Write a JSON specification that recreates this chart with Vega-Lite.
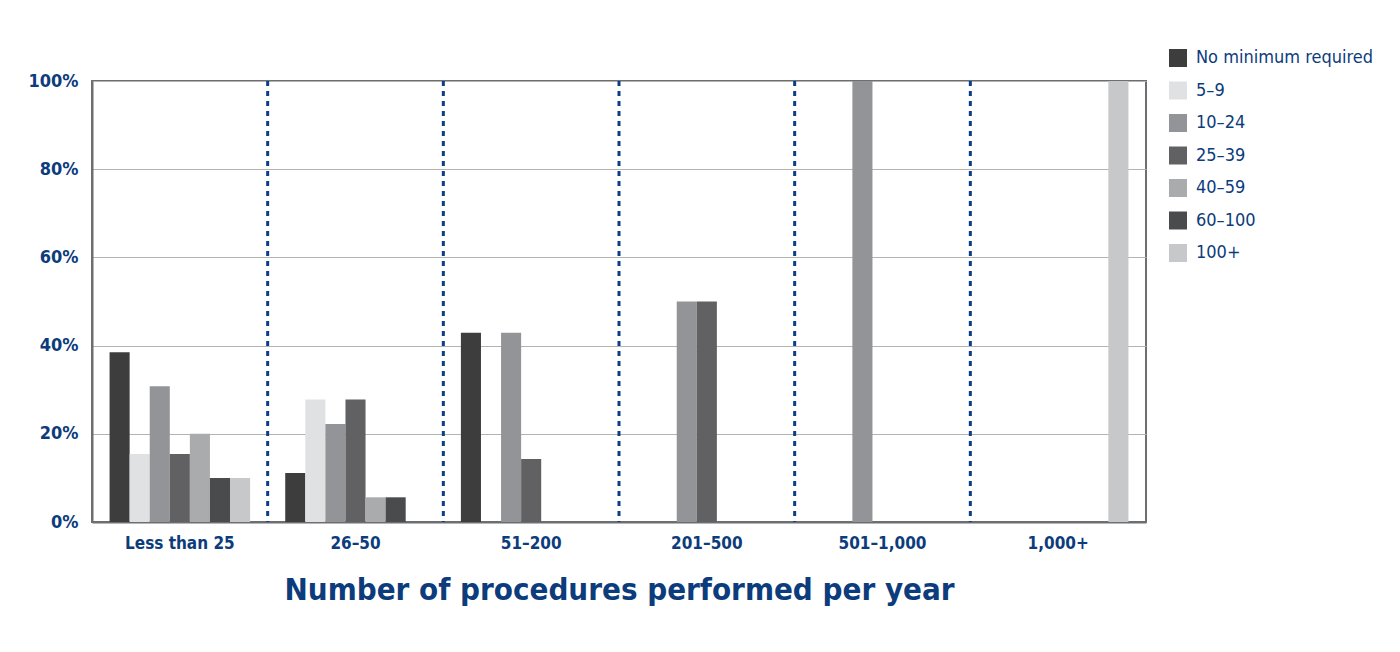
{
  "$schema": "https://vega.github.io/schema/vega-lite/v6.json",
  "autosize": {"type": "none"},
  "width": 1054,
  "height": 441,
  "padding": {"left": 92, "top": 81, "right": 254, "bottom": 130},
  "background": "white",
  "config": {
    "font": "Liberation Sans Narrow, DejaVu Sans Condensed, sans-serif",
    "view": {"stroke": "#6d6e71", "strokeWidth": 2}
  },
  "layer": [
    {
      "data": {"values": [
        {"group": "Less than 25", "series": "No minimum required", "pct": 38.5},
        {"group": "Less than 25", "series": "5–9", "pct": 15.4},
        {"group": "Less than 25", "series": "10–24", "pct": 30.8},
        {"group": "Less than 25", "series": "25–39", "pct": 15.4},
        {"group": "Less than 25", "series": "40–59", "pct": 20},
        {"group": "Less than 25", "series": "60–100", "pct": 10},
        {"group": "Less than 25", "series": "100+", "pct": 10},
        {"group": "26–50", "series": "No minimum required", "pct": 11.1},
        {"group": "26–50", "series": "5–9", "pct": 27.8},
        {"group": "26–50", "series": "10–24", "pct": 22.2},
        {"group": "26–50", "series": "25–39", "pct": 27.8},
        {"group": "26–50", "series": "40–59", "pct": 5.6},
        {"group": "26–50", "series": "60–100", "pct": 5.6},
        {"group": "51–200", "series": "No minimum required", "pct": 42.9},
        {"group": "51–200", "series": "5–9", "pct": 0},
        {"group": "51–200", "series": "10–24", "pct": 42.9},
        {"group": "51–200", "series": "25–39", "pct": 14.3},
        {"group": "201–500", "series": "10–24", "pct": 50},
        {"group": "201–500", "series": "25–39", "pct": 50},
        {"group": "501–1,000", "series": "10–24", "pct": 100},
        {"group": "1,000+", "series": "100+", "pct": 100}
      ]},
      "mark": {"type": "bar"},
      "encoding": {
        "x": {
          "field": "group", "type": "nominal",
          "sort": ["Less than 25", "26–50", "51–200", "201–500", "501–1,000", "1,000+"],
          "scale": {"domain": ["Less than 25", "26–50", "51–200", "201–500", "501–1,000", "1,000+"], "paddingInner": 0.2, "paddingOuter": 0.1},
          "axis": {
            "title": "Number of procedures performed per year",
            "titleFontSize": 31, "titleFontWeight": "bold", "titleColor": "#0c3c7c", "titlePadding": 24,
            "labelAngle": 0, "labelFontSize": 17, "labelFontWeight": "bold", "labelColor": "#0c3c7c", "labelPadding": 13,
            "ticks": false, "domainColor": "#6d6e71", "domainWidth": 2, "grid": false
          }
        },
        "xOffset": {
          "field": "series", "type": "nominal",
          "scale": {"domain": ["No minimum required", "5–9", "10–24", "25–39", "40–59", "60–100", "100+"], "paddingInner": 0, "paddingOuter": 0}
        },
        "y": {
          "field": "pct", "type": "quantitative",
          "scale": {"domain": [0, 100]},
          "axis": {
            "title": null, "values": [0, 20, 40, 60, 80, 100],
            "labelExpr": "datum.value + '%'",
            "labelFontSize": 18, "labelFontWeight": "bold", "labelColor": "#0c3c7c", "labelPadding": 14,
            "ticks": false, "domainColor": "#6d6e71", "domainWidth": 2,
            "gridColor": "#b3b3b3", "gridWidth": 1
          }
        },
        "color": {
          "field": "series", "type": "nominal",
          "scale": {
            "domain": ["No minimum required", "5–9", "10–24", "25–39", "40–59", "60–100", "100+"],
            "range": ["#3d3d3d", "#e0e1e3", "#939497", "#616163", "#aaabad", "#4a4b4d", "#c7c8ca"]
          },
          "legend": {
            "title": null, "orient": "none", "legendX": 1077, "legendY": -32,
            "symbolType": "square", "symbolSize": 324, "symbolStrokeWidth": 0, "symbolOpacity": 1,
            "labelFontSize": 18, "labelColor": "#0c3c7c", "labelOffset": 9, "rowPadding": 14.5,
            "labelLimit": 300
          }
        }
      }
    },
    {
      "data": {"values": [
        {"group": "26–50"}, {"group": "51–200"}, {"group": "201–500"}, {"group": "501–1,000"}, {"group": "1,000+"}
      ]},
      "mark": {"type": "rule", "color": "#0a3f85", "strokeWidth": 3, "strokeDash": [5, 5]},
      "encoding": {
        "x": {
          "field": "group", "type": "nominal", "bandPosition": 0,
          "scale": {"domain": ["Less than 25", "26–50", "51–200", "201–500", "501–1,000", "1,000+"], "paddingInner": 0, "paddingOuter": 0},
          "axis": null
        }
      }
    }
  ],
  "resolve": {"scale": {"x": "independent"}, "axis": {"x": "independent"}}
}
